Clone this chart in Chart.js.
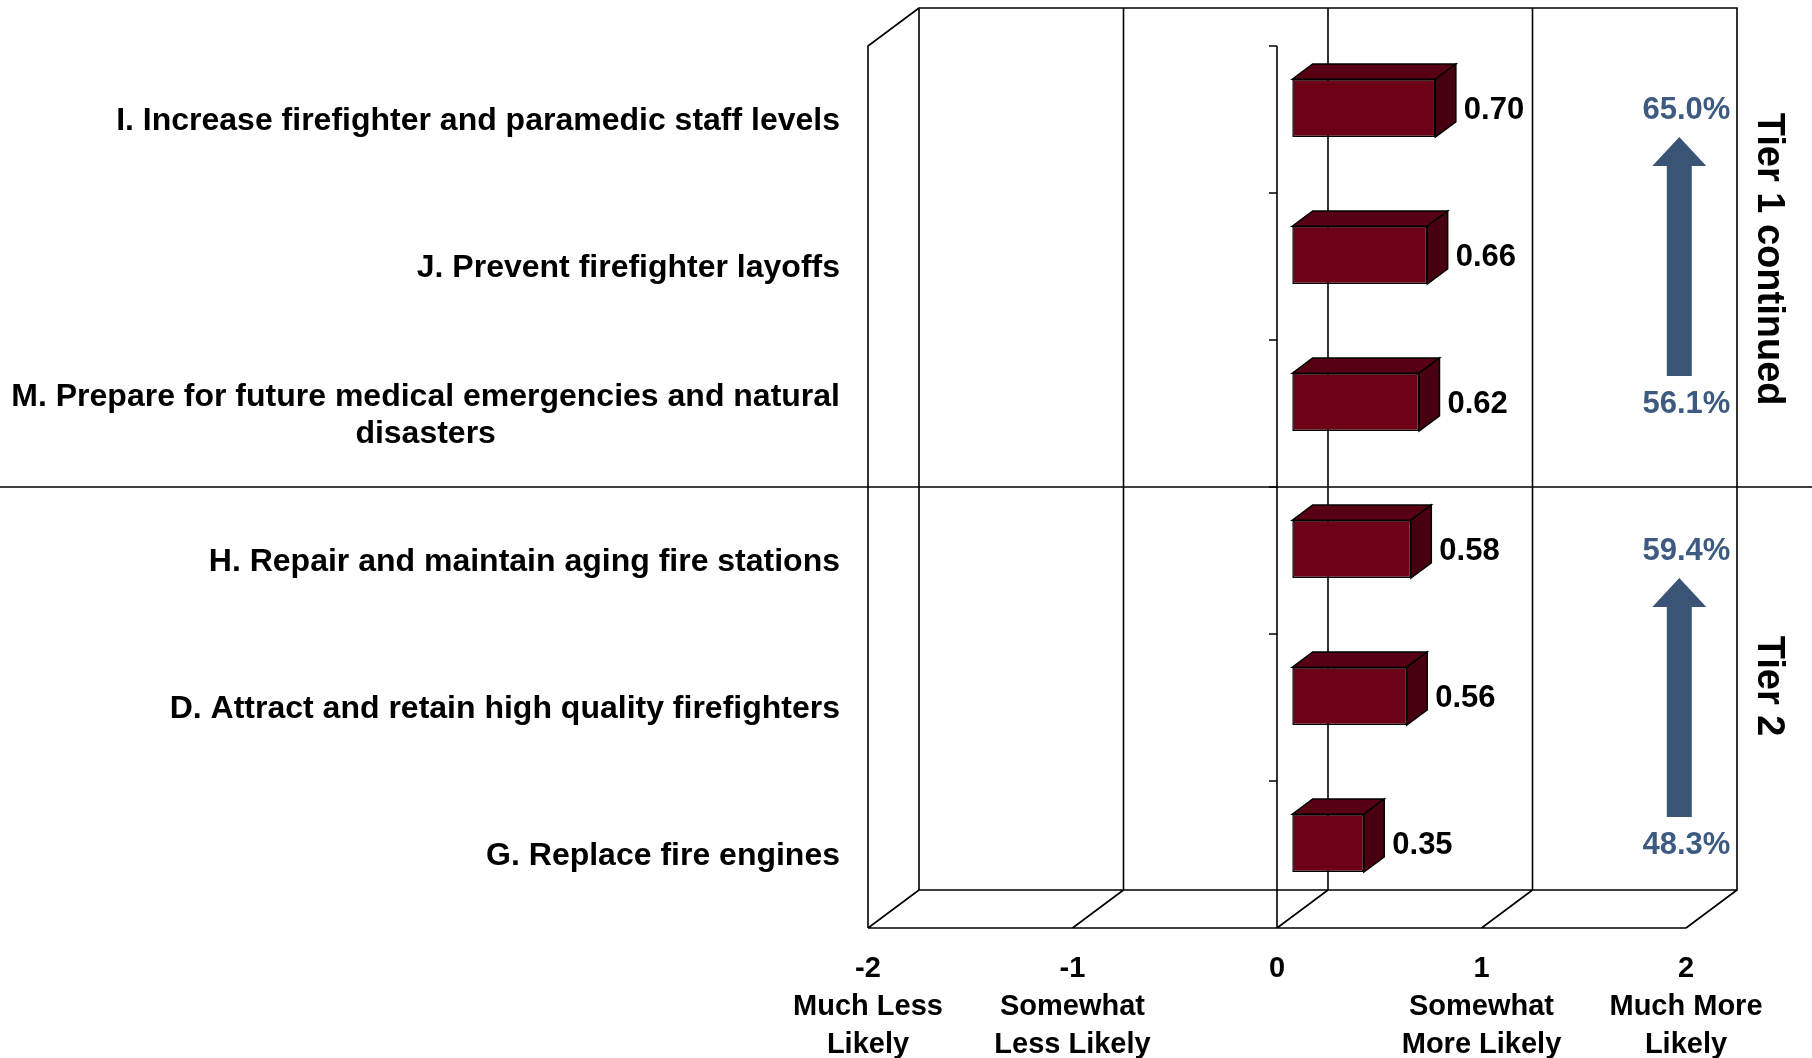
<!DOCTYPE html>
<html>
<head>
<meta charset="utf-8">
<script src="https://cdn.jsdelivr.net/npm/chart.js@4.4.1/dist/chart.umd.min.js"></script>
<style>
  html, body { margin: 0; padding: 0; background: #fff; }
  #wrap { width: 1812px; height: 1058px; position: relative; }
</style>
</head>
<body>
<div id="wrap"><canvas id="chart"></canvas></div>
<script>
const categories = [
  ["I. Increase firefighter and paramedic staff levels"],
  ["J. Prevent firefighter layoffs"],
  ["M. Prepare for future medical emergencies and natural", "disasters"],
  ["H. Repair and maintain aging fire stations"],
  ["D. Attract and retain high quality firefighters"],
  ["G. Replace fire engines"]
];
const meanScores = [0.70, 0.66, 0.62, 0.58, 0.56, 0.35];
const xTicks = [-2, -1, 0, 1, 2];
const xTickLabels = [
  ["-2", "Much Less", "Likely"],
  ["-1", "Somewhat", "Less Likely"],
  ["0"],
  ["1", "Somewhat", "More Likely"],
  ["2", "Much More", "Likely"]
];
const tierNames = ["Tier 1 continued", "Tier 2"];
const tierRanges = [[0, 2], [3, 5]];
const tierHigh = ["65.0%", "59.4%"];
const tierLow = ["56.1%", "48.3%"];

const FONT = '"Liberation Sans", Arial, sans-serif';
const DEPTH = { x: 51, y: -38 };   // full depth of the 3D box
const BAR_PLANE = 0.3;             // bars sit this far back
const BAR_DEPTH = 0.4;
const TIER_SHIFT = [4, -10];       // small nudge of the rotated tier names

// walls, floor and zero axis behind the bars
const walls = {
  id: "walls",
  beforeDatasetsDraw(chart) {
    const { ctx, chartArea: a, scales: { x } } = chart;
    const fx = -BAR_PLANE * DEPTH.x, fy = -BAR_PLANE * DEPTH.y;
    const bx = (1 - BAR_PLANE) * DEPTH.x, by = (1 - BAR_PLANE) * DEPTH.y;
    ctx.save();
    ctx.strokeStyle = "#000";
    ctx.lineWidth = 1.6;
    ctx.beginPath();
    ctx.rect(a.left + bx, a.top + by, a.right - a.left, a.bottom - a.top);
    xTicks.forEach(v => {
      const px = x.getPixelForValue(v);
      ctx.moveTo(px + bx, a.top + by);
      ctx.lineTo(px + bx, a.bottom + by);
      ctx.moveTo(px + fx, a.bottom + fy);
      ctx.lineTo(px + bx, a.bottom + by);
    });
    ctx.moveTo(a.left + fx, a.bottom + fy);
    ctx.lineTo(a.right + fx, a.bottom + fy);
    ctx.moveTo(a.left + fx, a.bottom + fy);
    ctx.lineTo(a.left + fx, a.top + fy);
    ctx.lineTo(a.left + bx, a.top + by);
    // zero axis on the front plane with category ticks
    const zx = x.getPixelForValue(0) + fx;
    ctx.moveTo(zx, a.top + fy);
    ctx.lineTo(zx, a.bottom + fy);
    const n = categories.length;
    for (let i = 0; i <= n; i++) {
      const yy = a.top + fy + i * (a.bottom - a.top) / n;
      ctx.moveTo(zx - 8, yy);
      ctx.lineTo(zx, yy);
    }
    ctx.stroke();
    ctx.restore();
  }
};

// top and side faces of the bars plus value labels
const boxes = {
  id: "boxes",
  afterDatasetsDraw(chart) {
    const { ctx } = chart;
    const dx = BAR_DEPTH * DEPTH.x, dy = BAR_DEPTH * DEPTH.y;
    const meta = chart.getDatasetMeta(0);
    ctx.save();
    ctx.strokeStyle = "#000";
    ctx.lineWidth = 1.5;
    meta.data.forEach((bar, i) => {
      const p = bar.getProps(["x", "y", "base", "height"], true);
      const top = p.y - p.height / 2, bot = p.y + p.height / 2;
      ctx.fillStyle = "#570014";
      ctx.beginPath();
      ctx.moveTo(p.base, top);
      ctx.lineTo(p.x, top);
      ctx.lineTo(p.x + dx, top + dy);
      ctx.lineTo(p.base + dx, top + dy);
      ctx.closePath();
      ctx.fill(); ctx.stroke();
      ctx.fillStyle = "#480011";
      ctx.beginPath();
      ctx.moveTo(p.x, top);
      ctx.lineTo(p.x + dx, top + dy);
      ctx.lineTo(p.x + dx, bot + dy);
      ctx.lineTo(p.x, bot);
      ctx.closePath();
      ctx.fill(); ctx.stroke();

      ctx.fillStyle = "#000";
      ctx.font = "bold 31px " + FONT;
      ctx.textAlign = "left";
      ctx.textBaseline = "middle";
      ctx.fillText(meanScores[i].toFixed(2), p.x + dx + 8, p.y + 2);
    });
    ctx.restore();
  }
};

// category labels, tier arrows and separator
const extras = {
  id: "extras",
  afterDraw(chart) {
    const { ctx, chartArea: a, scales: { y } } = chart;
    const fy = -BAR_PLANE * DEPTH.y;
    ctx.save();
    ctx.fillStyle = "#000";
    ctx.font = "bold 32px " + FONT;
    ctx.textBaseline = "middle";
    ctx.textAlign = "center";
    const rightEdge = 840;
    categories.forEach((lines, i) => {
      const cy = y.getPixelForValue(i) + fy + 2;
      const w = Math.max(...lines.map(s => ctx.measureText(s).width));
      const lh = 37;
      lines.forEach((s, k) => {
        ctx.fillText(s, rightEdge - w / 2, cy + (k - (lines.length - 1) / 2) * lh);
      });
    });

    // separator between tiers
    const sepY = (y.getPixelForValue(2) + y.getPixelForValue(3)) / 2 + fy;
    ctx.strokeStyle = "#000";
    ctx.lineWidth = 1.6;
    ctx.beginPath();
    ctx.moveTo(0, sepY);
    ctx.lineTo(chart.width, sepY);
    ctx.stroke();

    tierNames.forEach((name, t) => {
      const yHi = y.getPixelForValue(tierRanges[t][0]);
      const yLo = y.getPixelForValue(tierRanges[t][1]);
      ctx.font = "bold 31px " + FONT;
      ctx.fillStyle = "#3D5A80";
      ctx.textAlign = "right";
      ctx.textBaseline = "middle";
      ctx.fillText(tierHigh[t], a.right + 29, yHi + 2);
      ctx.fillText(tierLow[t], a.right + 29, yLo + 2);

      const cx = a.right - 22, tip = yHi + 29, base = tip + 29, end = yLo - 26;
      ctx.fillStyle = "#3A5476";
      ctx.beginPath();
      ctx.moveTo(cx, tip);
      ctx.lineTo(cx + 27, base);
      ctx.lineTo(cx + 12.5, base);
      ctx.lineTo(cx + 12.5, end);
      ctx.lineTo(cx - 12.5, end);
      ctx.lineTo(cx - 12.5, base);
      ctx.lineTo(cx - 27, base);
      ctx.closePath();
      ctx.fill();

      ctx.save();
      ctx.translate(a.right + 67, (yHi + yLo) / 2 + TIER_SHIFT[t]);
      ctx.rotate(Math.PI / 2);
      ctx.fillStyle = "#000";
      ctx.font = "bold 38px " + FONT;
      ctx.textAlign = "center";
      ctx.fillText(name, 0, 0);
      ctx.restore();
    });
    ctx.restore();
  }
};

new Chart(document.getElementById("chart"), {
  type: "bar",
  data: {
    labels: categories.map(c => c.join(" ")),
    datasets: [{
      data: meanScores,
      backgroundColor: "#6C0017",
      borderColor: "#000",
      borderWidth: 1.5,
      borderSkipped: false,
      barPercentage: 0.393,
      categoryPercentage: 1
    }]
  },
  options: {
    indexAxis: "y",
    responsive: true,
    maintainAspectRatio: false,
    animation: false,
    layout: { padding: { left: 0, top: 34.6, right: 110.7, bottom: 0 } },
    plugins: { legend: { display: false }, tooltip: { enabled: false } },
    scales: {
      x: {
        min: -2,
        max: 2,
        afterFit(s) { s.height = 141.4; },
        afterBuildTicks(s) { s.ticks = xTicks.map(v => ({ value: v })); },
        grid: { display: false, drawTicks: false },
        border: { display: false },
        ticks: {
          padding: 33,
          labelOffset: -15.3,
          color: "#000",
          font: { family: FONT, size: 29, weight: "bold", lineHeight: 1.31 },
          callback: (v) => xTickLabels[xTicks.indexOf(v)]
        }
      },
      y: {
        afterFit(s) { s.width = 883.3; },
        grid: { display: false, drawTicks: false },
        border: { display: false },
        ticks: { display: false }
      }
    }
  },
  plugins: [walls, boxes, extras]
});
</script>
</body>
</html>
